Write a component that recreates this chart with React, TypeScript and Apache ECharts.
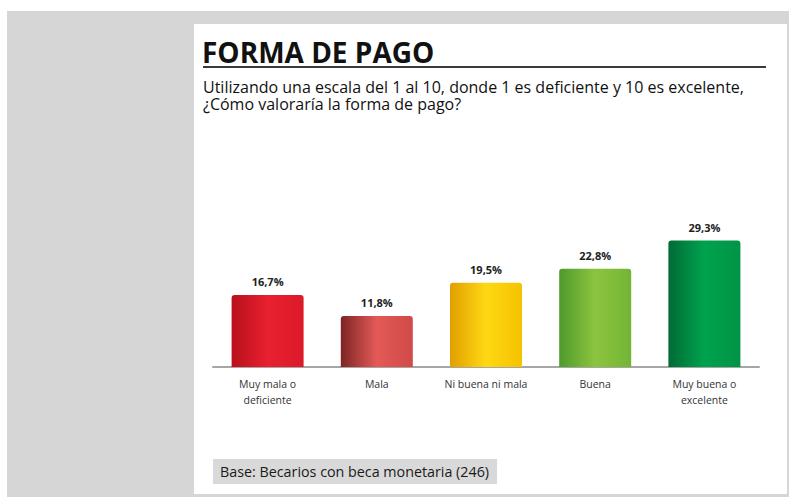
import React, { useEffect, useRef } from "react";
import * as echarts from "echarts";

const categories = ["Muy mala o\ndeficiente", "Mala", "Ni buena ni mala", "Buena", "Muy buena o\nexcelente"];
const values = [16.7, 11.8, 19.5, 22.8, 29.3];

const titleText = "FORMA DE PAGO";
const questionText = "Utilizando una escala del 1 al 10, donde 1 es deficiente y 10 es excelente,\n¿Cómo valoraría la forma de pago?";
const baseText = "Base: Becarios con beca monetaria (246)";

const barShades: [string, string, string][] = [
  ["#b8101c", "#e8202f", "#dc1a2a"],
  ["#7e2424", "#e35a58", "#d04a48"],
  ["#e0a000", "#ffd814", "#f5c200"],
  ["#4e9a2c", "#8cc43e", "#74b536"],
  ["#006b35", "#00a24e", "#009446"],
];

const FONT = "'Open Sans', 'Noto Sans', sans-serif";

export default function App() {
  const ref = useRef<HTMLDivElement>(null);
  useEffect(() => {
    if (!ref.current) return;
    const chart = echarts.init(ref.current, null, { renderer: "svg" });
    const data = values.map((v, i) => ({
      value: v,
      itemStyle: {
        color: new echarts.graphic.LinearGradient(0, 0, 1, 0, [
          { offset: 0, color: barShades[i][0] },
          { offset: 0.5, color: barShades[i][1] },
          { offset: 1, color: barShades[i][2] },
        ]),
        borderRadius: [3, 3, 0, 0],
      },
    }));
    chart.setOption({
      animation: false,
      backgroundColor: "#ffffff",
      graphic: [
        { type: "rect", z: -10, shape: { x: 7, y: 11, width: 790, height: 500 }, style: { fill: "#d6d6d6" } },
        { type: "rect", z: -9, shape: { x: 194, y: 24, width: 593, height: 470 }, style: { fill: "#ffffff" } },
        {
          type: "text",
          style: { x: 202, y: 52, text: titleText, font: `bold 28px ${FONT}`, fill: "#111111", verticalAlign: "middle" },
        },
        { type: "line", shape: { x1: 203, y1: 67, x2: 766, y2: 67 }, style: { stroke: "#3a3a3a", lineWidth: 2 } },
        {
          type: "text",
          style: {
            x: 203,
            y: 79,
            text: questionText,
            font: `16px ${FONT}`,
            lineHeight: 16.5,
            fill: "#111111",
            verticalAlign: "top",
          },
        },
        { type: "rect", shape: { x: 213, y: 459, width: 284, height: 25 }, style: { fill: "#d9d9d9" } },
        {
          type: "text",
          style: { x: 220, y: 471.5, text: baseText, font: `14.3px ${FONT}`, fill: "#1a1a1a", verticalAlign: "middle" },
        },
      ],
      grid: { left: 213, right: 30, top: 216, bottom: 130 },
      xAxis: {
        type: "category",
        data: categories,
        axisLine: { lineStyle: { color: "#a6a6a6", width: 2 } },
        axisTick: { show: false },
        axisLabel: { fontFamily: FONT, fontSize: 10.5, color: "#333333", lineHeight: 16, margin: 9, interval: 0 },
      },
      yAxis: { type: "value", min: 0, max: 35, show: false, splitLine: { show: false } },
      series: [
        {
          type: "bar",
          data,
          barWidth: 72,
          label: {
            show: true,
            position: "top",
            distance: 8,
            fontFamily: FONT,
            fontWeight: "bold",
            fontSize: 11,
            color: "#222222",
            formatter: (p: any) => String(p.value).replace(".", ",") + "%",
          },
        },
      ],
    });
    return () => chart.dispose();
  }, []);
  return <div ref={ref} style={{ position: "fixed", left: 0, top: 0, width: 789, height: 497 }} />;
}
